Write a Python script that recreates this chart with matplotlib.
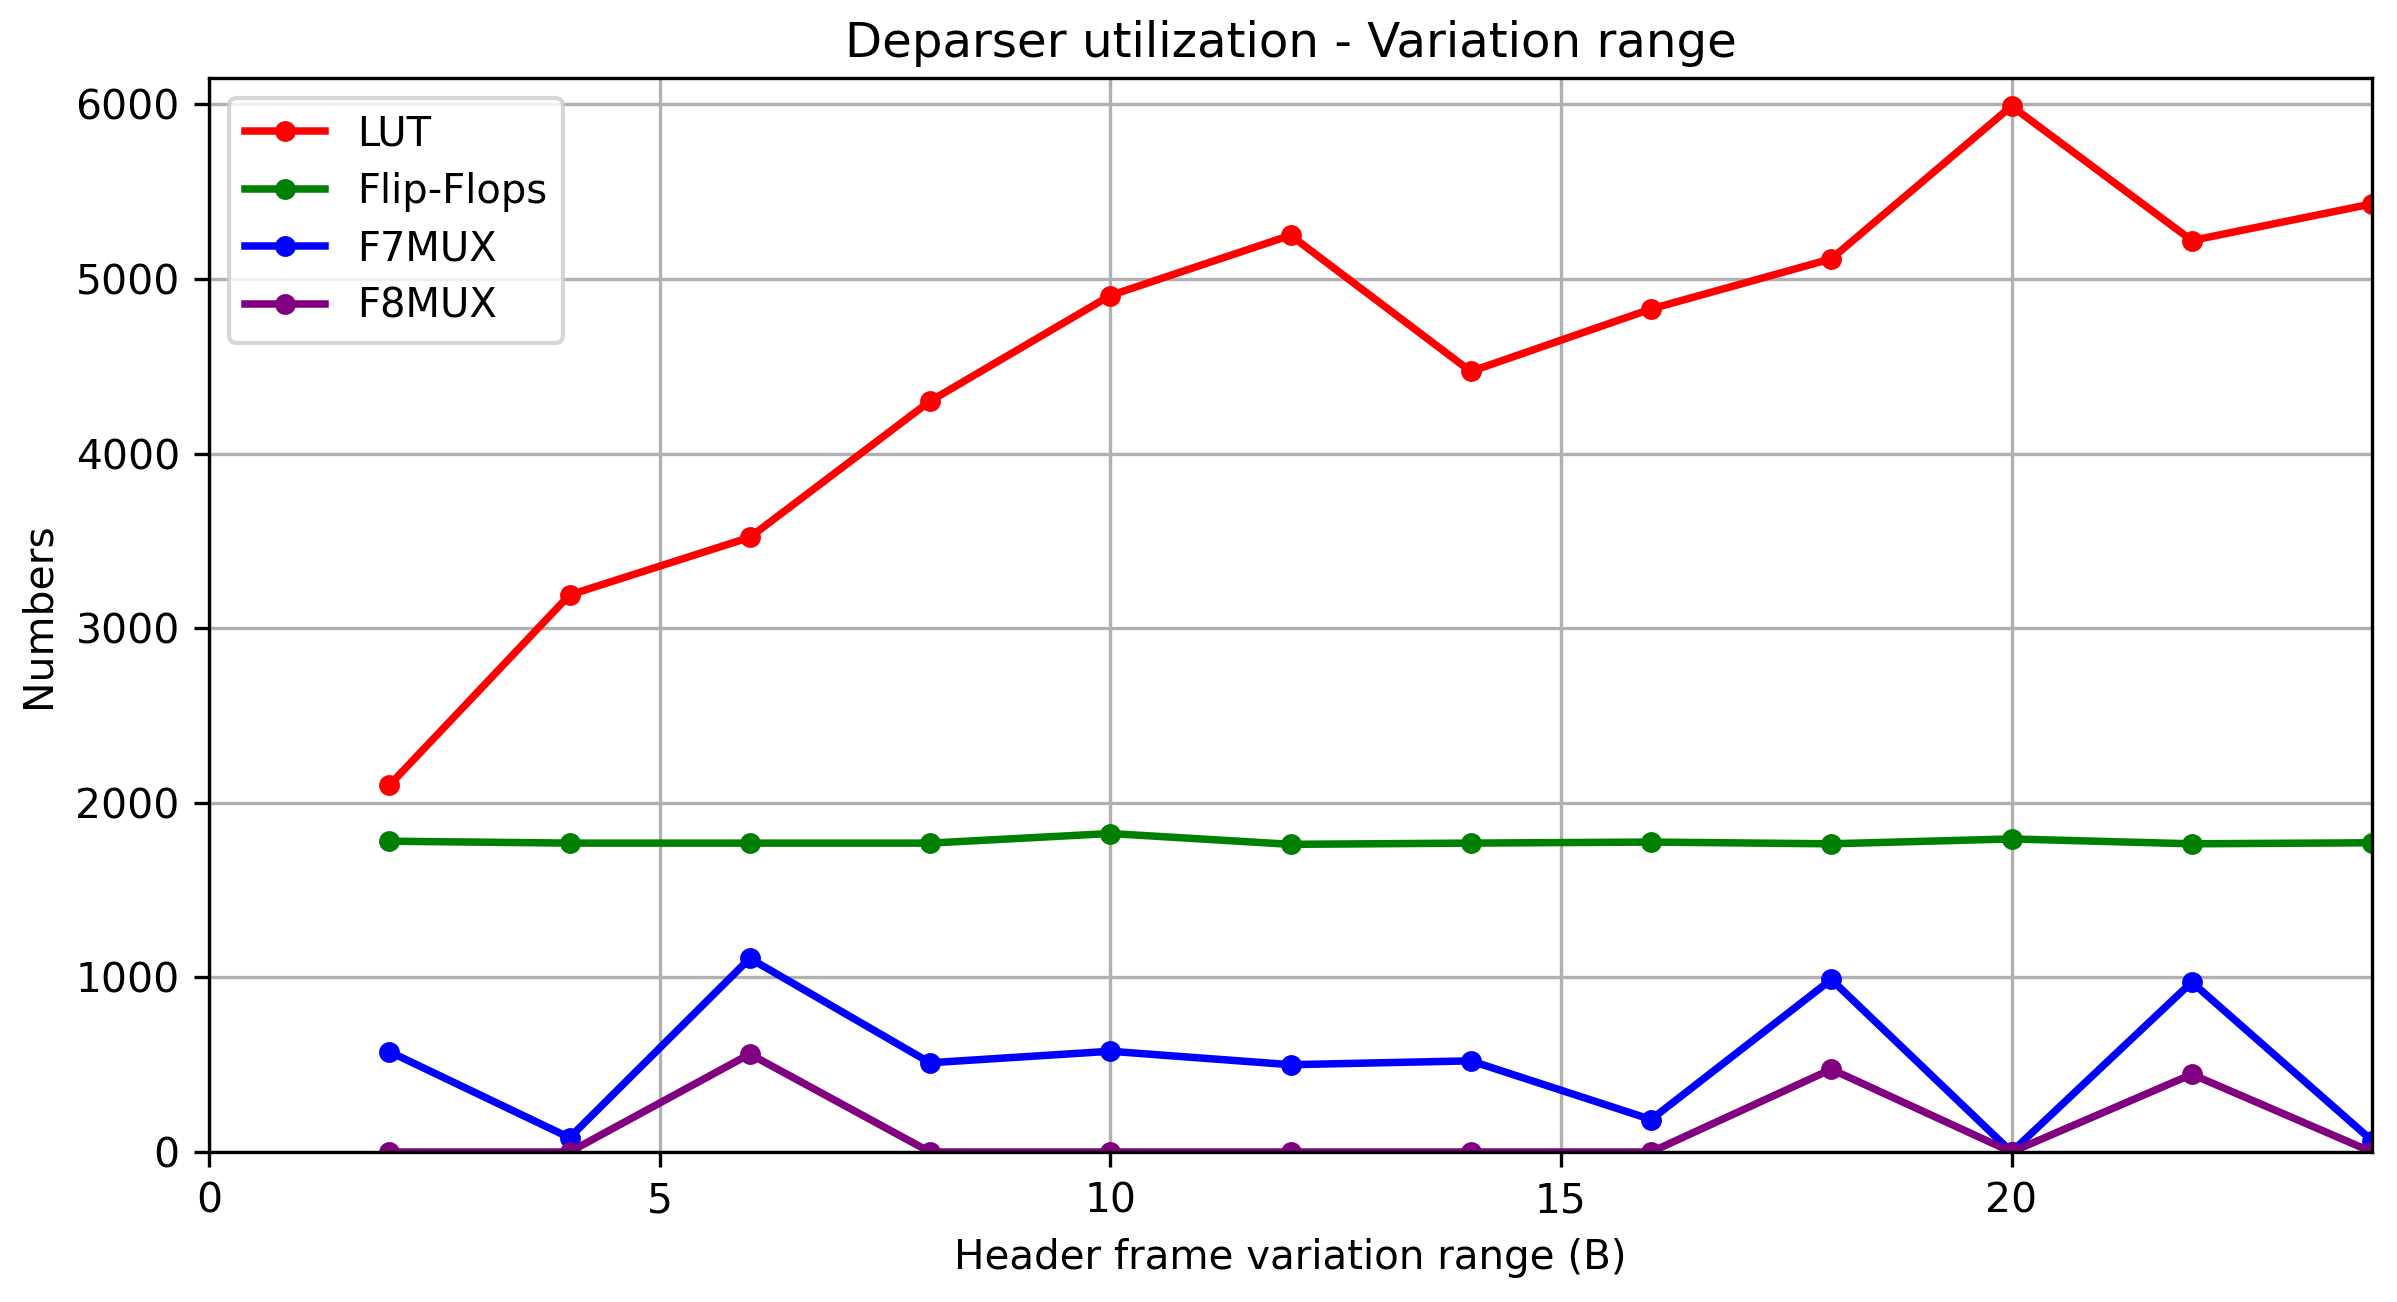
import matplotlib
matplotlib.use("Agg")
import matplotlib.pyplot as plt

x = [2, 4, 6, 8, 10, 12, 14, 16, 18, 20, 22, 24]
lut = [2100, 3190, 3520, 4300, 4905, 5250, 4470, 4828, 5115, 5990, 5220, 5430]
flip_flops = [1780, 1769, 1769, 1769, 1824, 1762, 1769, 1775, 1765, 1793, 1765, 1771]
f7mux = [575, 82, 1109, 511, 577, 500, 522, 186, 988, 0, 973, 65]
f8mux = [0, 0, 561, 0, 0, 0, 0, 0, 474, 0, 445, 0]

fig, ax = plt.subplots(figsize=(2397/300, 1302/300), dpi=300)
fig.subplots_adjust(left=0.0872, right=0.9896, top=0.940, bottom=0.1152)

ax.plot(x, lut, marker='o', color='red', linewidth=1.8, markersize=4, label='LUT')
ax.plot(x, flip_flops, marker='o', color='green', linewidth=1.8, markersize=4, label='Flip-Flops')
ax.plot(x, f7mux, marker='o', color='blue', linewidth=1.8, markersize=4, label='F7MUX')
ax.plot(x, f8mux, marker='o', color='purple', linewidth=1.8, markersize=4, label='F8MUX')

ax.set_xlim(0, 24)
ax.set_ylim(0, 6150)
ax.grid(True)
ax.set_title('Deparser utilization - Variation range', fontsize=11.6, pad=5)
ax.set_xlabel('Header frame variation range (B)', fontsize=9.7)
ax.set_ylabel('Numbers', fontsize=9.8)
ax.tick_params(labelsize=9.8)
ax.legend(loc='upper left', fontsize=9.6, labelspacing=0.44)

fig.savefig('out.png', dpi=300)
